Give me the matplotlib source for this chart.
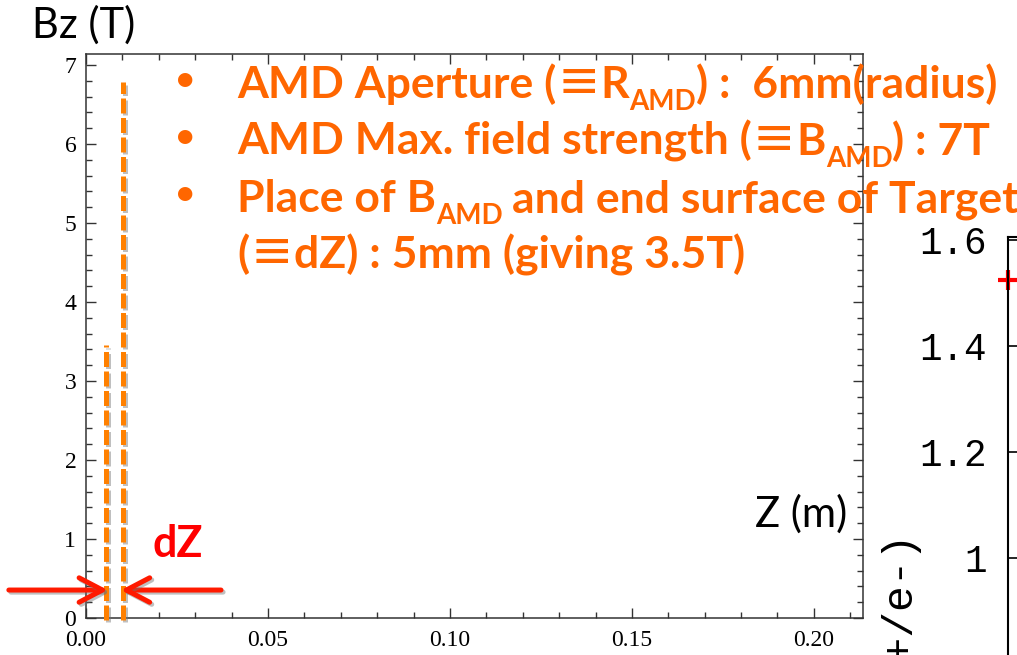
import matplotlib
matplotlib.use('Agg')
import matplotlib.pyplot as plt
import matplotlib.patheffects as pe
from matplotlib.ticker import MultipleLocator
from matplotlib.transforms import IdentityTransform

W, H = 1017, 655

# --- data ---
dash_z = [0.0054, 0.0102]        # end of target, place of B_AMD (m)
dash_top = [3.45, 6.78]          # height of the dashed markers (T)
arrow_y = 0.354
arrow_left = (-0.0212, 0.0060)   # tail, tip
arrow_right = (0.0371, 0.0096)
x_ticks = [0.00, 0.05, 0.10, 0.15, 0.20]
x_labels = ['0.00', '0.05', '0.10', '0.15', '0.20']
y_ticks = [0, 1, 2, 3, 4, 5, 6, 7]
yield_ticks = [1.0, 1.2, 1.4, 1.6]
yield_labels = ['1', '1.2', '1.4', '1.6']
yield_point = 1.525

ORANGE = '#FF6600'
DASH = '#FF8000'
RED = '#FF1A00'

fig = plt.figure(figsize=(W / 100, H / 100), dpi=100)

# main Bz(Z) panel
ax = fig.add_axes([86 / W, (H - 618) / H, (863 - 86) / W, (618 - 54) / H])
ax.set_xlim(0, 0.2135)
ax.set_ylim(0, 7.14)
ax.set_xticks(x_ticks, x_labels)
ax.set_yticks(y_ticks)
ax.xaxis.set_minor_locator(MultipleLocator(0.01))
ax.yaxis.set_minor_locator(MultipleLocator(0.2))
ax.tick_params(which='both', direction='in', top=True, right=True,
               color='#333333', width=1, labelsize=17,
               labelfontfamily='Liberation Serif')
ax.tick_params(which='major', length=7)
ax.tick_params(which='minor', length=4.5)
ax.tick_params(axis='x', pad=9)
ax.tick_params(axis='y', pad=7)
for sp in ax.spines.values():
    sp.set_color('#333333')
    sp.set_linewidth(1.1)

shadow = [pe.SimpleLineShadow(offset=(1.5, -1.5), shadow_color='0.45', alpha=0.45),
          pe.Normal()]
for z, top in zip(dash_z, dash_top):
    ax.plot([z, z], [-0.03, top], color=DASH, lw=3.6, dashes=(3.0, 0.9),
            dash_capstyle='butt', clip_on=False, path_effects=shadow, zorder=3)

for tail, tip in (arrow_left, arrow_right):
    ax.annotate('', xy=(tip, arrow_y), xytext=(tail, arrow_y),
                annotation_clip=False,
                arrowprops=dict(arrowstyle='->,head_length=0.42,head_width=0.22',
                                mutation_scale=40, lw=3.6, color=RED,
                                shrinkA=0, shrinkB=0, path_effects=shadow))

# partial neighbouring panel on the right
ax2 = fig.add_axes([1008 / W, (H - 700) / H, 200 / W, (700 - 237) / H])
ax2.set_xlim(0, 1)
ax2.set_ylim(0.732, 1.6057)
ax2.set_yticks(yield_ticks, yield_labels)
ax2.set_xticks([])
ax2.tick_params(direction='in', length=8, width=1.2, pad=15, labelsize=27,
                labelfontfamily='Liberation Mono')
for sp in ax2.spines.values():
    sp.set_linewidth(1.5)
ax2.plot([0], [yield_point], marker='+', color='red', ms=14, mew=3, clip_on=False)
fig.text(895 / W, 1 - 526 / H, '(e+/e-)', rotation=90, ha='center', va='top',
         family='Liberation Mono', fontsize=31)

# axis titles
fig.text(32 / W, 1 - 38 / H, 'Bz (T)', family='Lato', fontsize=30, va='baseline')
fig.text(755 / W, 1 - 527 / H, 'Z (m)', family='Lato', fontsize=30, va='baseline')
fig.text(152 / W, 1 - 557 / H, 'dZ', family='Lato', fontsize=31, weight='bold',
         color='#FF0000', va='baseline')

# bullet text, built piece by piece for subscripts
renderer = fig.canvas.get_renderer()
MAIN, SUB, DROP = 32, 20, 12


def seg(text, sub=False, fam='Lato', gap=0):
    return (text, SUB if sub else MAIN, DROP if sub else 0, fam, gap)


EQ = 'Noto Sans CJK JP'
lines = [
    (98, True, [seg('AMD Aperture ('), seg('≡', fam=EQ), seg('R'),
                seg('AMD', sub=True), seg(') :  6mm(radius)')]),
    (155, True, [seg('AMD Max. field strength ('), seg('≡', fam=EQ), seg('B'),
                 seg('AMD', sub=True), seg(') : 7T')]),
    (212, True, [seg('Place of B'), seg('AMD', sub=True),
                 seg('and end surface of Target', gap=9)]),
    (268, False, [seg('('), seg('≡', fam=EQ), seg('dZ) : 5mm (giving 3.5T)')]),
]

for base, bullet, parts in lines:
    if bullet:
        fig.text(185, H - base + 18, '•', transform=IdentityTransform(),
                 family='Lato', fontsize=28, color=ORANGE, ha='center', va='center')
    x = 237
    for text, size, drop, fam, gap in parts:
        x += gap
        t = fig.text(x, H - base - drop, text, transform=IdentityTransform(),
                     family=[fam, 'DejaVu Sans'], fontsize=size, weight='bold',
                     color=ORANGE, va='baseline')
        x = t.get_window_extent(renderer).x1

fig.savefig('out.png', dpi=100)
